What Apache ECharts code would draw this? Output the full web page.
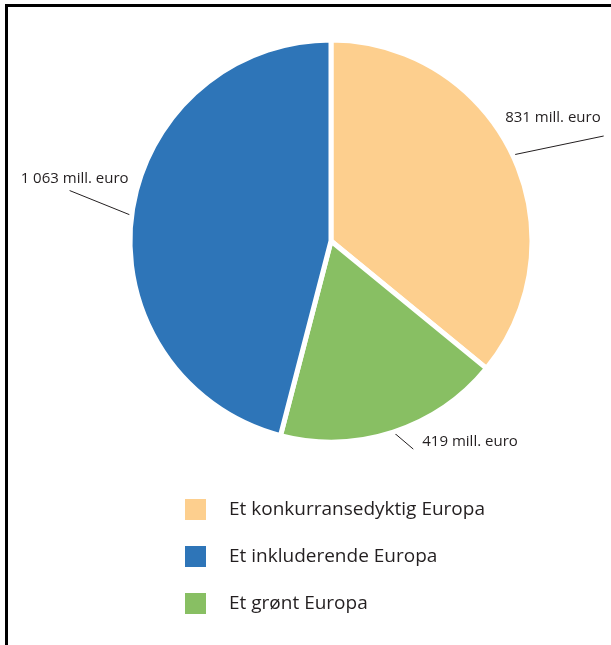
<!DOCTYPE html>
<html>
<head>
<meta charset="utf-8">
<script src="https://cdn.jsdelivr.net/npm/echarts@6/dist/echarts.min.js"></script>
<style>
  html, body { margin: 0; padding: 0; background: #fff; }
  #frame { position: absolute; left: 5px; top: 4px; width: 610px; height: 645px;
           border-left: 3px solid #000; border-top: 3px solid #000; }
  #chart { position: absolute; left: 0; top: 0; width: 611px; height: 645px; }
</style>
</head>
<body>
<div id="frame"></div>
<div id="chart"></div>
<script>
// andeler i pie-rekkefølge (med klokka fra toppen)
var navn = ['Et konkurransedyktig Europa', 'Et grønt Europa', 'Et inkluderende Europa'];
var verdier = [831, 419, 1063];
var farger = ['#fdcf8e', '#88bf63', '#2e75b8'];
var legendRekkefolge = ['Et konkurransedyktig Europa', 'Et inkluderende Europa', 'Et grønt Europa'];

// etikettlinjer: forskyvning fra kanten av sektoren, og tekstplassering
var linjeVektor = [[91, -19], [20, 17], [-62, -25]];
var tekstPlass = [
  { dx: -3, dy: -18, align: 'right' },
  { dx: 9, dy: -7, align: 'left' },
  { dx: 5, dy: -12, align: 'center' }
];

function fmt(v) {
  var s = String(v);
  if (s.length > 3) s = s.slice(0, s.length - 3) + ' ' + s.slice(-3);
  return s + ' mill. euro';
}

var chart = echarts.init(document.getElementById('chart'));
var data = [];
for (var i = 0; i < verdier.length; i++) {
  data.push({ name: navn[i], value: verdier[i], itemStyle: { color: farger[i] } });
}

var option = {
  animation: false,
  legend: {
    data: legendRekkefolge,
    orient: 'vertical',
    left: 183,
    top: 497,
    padding: 0,
    itemWidth: 23,
    itemHeight: 23,
    itemGap: 22,
    icon: 'rect',
    textStyle: { fontFamily: 'Open Sans', fontSize: 19, lineHeight: 19, color: '#231f20', padding: [5, 0, 0, 17] },
    selectedMode: false
  },
  series: [{
    type: 'pie',
    center: [331, 241],
    radius: [0, 201],
    startAngle: 90,
    clockwise: true,
    data: data,
    itemStyle: { borderColor: '#fff', borderWidth: 5 },
    label: {
      show: true,
      formatter: function (p) { return fmt(p.value); },
      fontFamily: 'Open Sans',
      fontSize: 15,
      color: '#231f20',
      overflow: 'none'
    },
    labelLine: { show: true, length: 10, length2: 10, lineStyle: { color: '#231f20', width: 1 } },
    labelLayout: function (p) {
      var p0 = p.labelLinePoints[0];
      var v = linjeVektor[p.dataIndex];
      var end = [p0[0] + v[0], p0[1] + v[1]];
      var t = tekstPlass[p.dataIndex];
      return {
        x: end[0] + t.dx,
        y: end[1] + t.dy,
        align: t.align,
        verticalAlign: 'middle',
        labelLinePoints: [p0, end]
      };
    },
    emphasis: { disabled: true }
  }]
};
chart.setOption(option);
</script>
</body>
</html>
